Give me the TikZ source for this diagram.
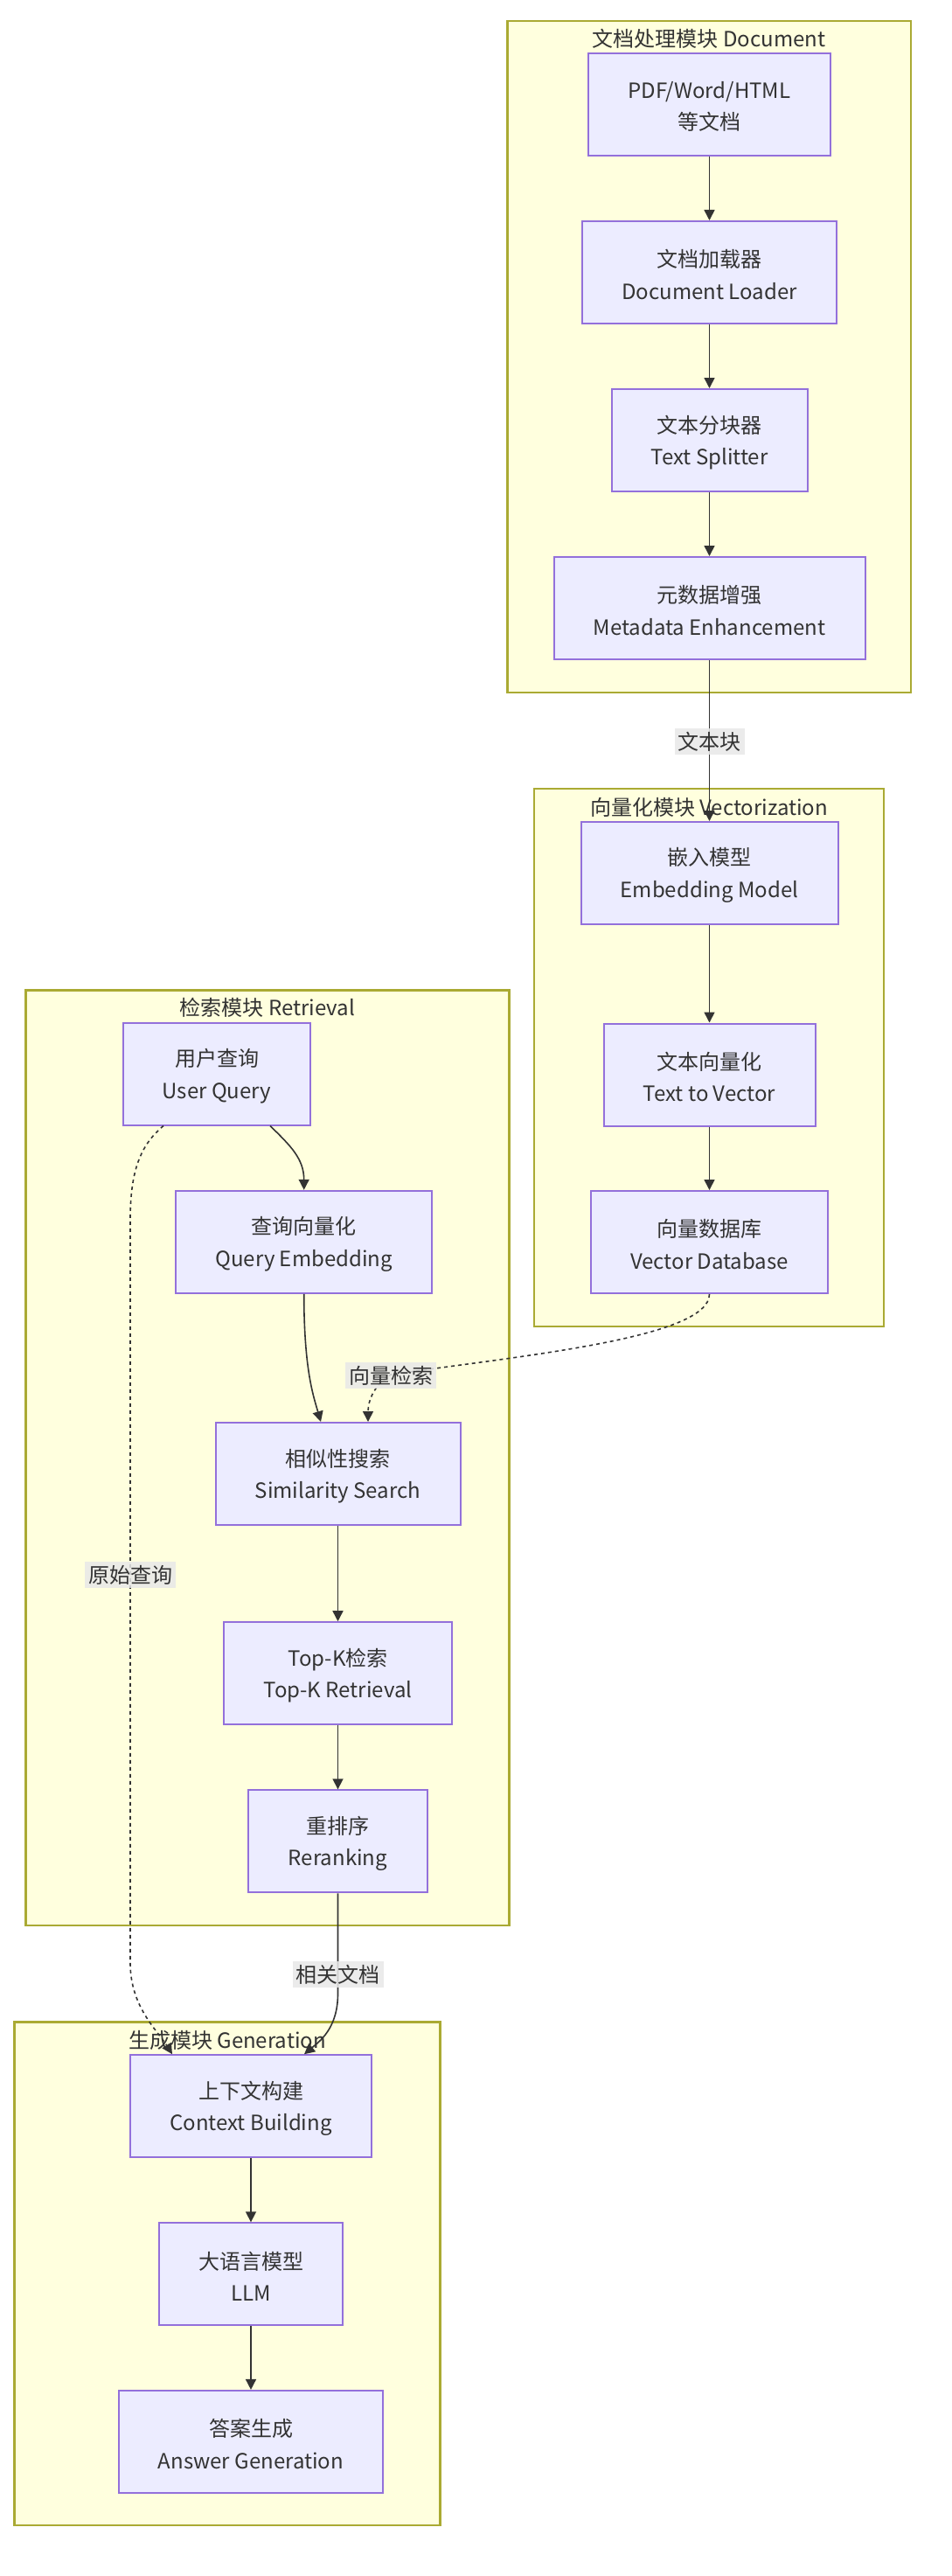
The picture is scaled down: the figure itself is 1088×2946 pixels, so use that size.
\documentclass[tikz,border=0pt]{standalone}
\usepackage{fontspec}
\setmainfont{Noto Sans CJK SC}
\usetikzlibrary{arrows.meta,calc}
\definecolor{clfill}{HTML}{FFFFDE}
\definecolor{clstroke}{HTML}{AAAA33}
\definecolor{ndfill}{HTML}{ECECFF}
\definecolor{ndstroke}{HTML}{9370DB}
\definecolor{edgec}{HTML}{333333}
\definecolor{lblfill}{HTML}{E8E8E8}
\begin{document}
\begin{tikzpicture}[x=1pt,y=-1pt,
  every node/.style={font=\fontsize{24}{36.5}\selectfont, text=edgec},
  nodebox/.style={draw=ndstroke, fill=ndfill, line width=2pt, minimum height=117pt, inner sep=0pt},
  boxtext/.style={align=center, inner sep=0pt, yshift=-2.5pt, label distance=0pt},
  clusterbox/.style={draw=clstroke, fill=clfill, line width=2.5pt},
  conn/.style={draw=edgec, line width=1.6pt, -{Triangle[length=12pt,width=12pt]}},
  dotconn/.style={conn, dash pattern=on 4pt off 4pt},
  elabel/.style={fill=lblfill, fill opacity=0.85, text opacity=1, inner sep=4pt}
]
\fill[white] (0,0) rectangle (1088,2946);
\useasboundingbox (0,0) rectangle (1088,2946);

% clusters
\draw[clusterbox] (580.7,24) rectangle (1042,792);
\draw[clusterbox] (611,902) rectangle (1011,1517);
\draw[clusterbox] (29.5,1132.6) rectangle (582.4,2202);
\draw[clusterbox] (16.7,2312.7) rectangle (503.3,2888);
\node (tdoc) at (811,44) {文档处理模块 Document};
\node (tvec) at (811,923) {向量化模块 Vectorization};
\node (tret) at (306,1152.6) {检索模块 Retrieval};
\node (tgen) at (260,2333) {生成模块 Generation};

% document module
\node[nodebox, minimum width=277pt, label={[boxtext]center:{PDF/Word/HTML\\等文档}}] (pdf) at (811.5,119.5) {};
\node[nodebox, minimum width=291pt, label={[boxtext]center:{文档加载器\\Document Loader}}] (loader) at (811.5,311.5) {};
\node[nodebox, minimum width=224pt, label={[boxtext]center:{文本分块器\\Text Splitter}}] (split) at (811.5,503.5) {};
\node[nodebox, minimum width=356pt, label={[boxtext]center:{元数据增强\\Metadata Enhancement}}] (meta) at (811.5,695.5) {};

% vectorization module
\node[nodebox, minimum width=294pt, label={[boxtext]center:{嵌入模型\\Embedding Model}}] (embed) at (811.5,998.5) {};
\node[nodebox, minimum width=242pt, label={[boxtext]center:{文本向量化\\Text to Vector}}] (t2v) at (811.5,1229) {};
\node[nodebox, minimum width=271pt, label={[boxtext]center:{向量数据库\\Vector Database}}] (db) at (811.5,1420.5) {};

% retrieval module
\node[nodebox, minimum width=214.5pt, label={[boxtext]center:{用户查询\\User Query}}] (uq) at (248,1228) {};
\node[nodebox, minimum width=293.4pt, label={[boxtext]center:{查询向量化\\Query Embedding}}] (qe) at (347.7,1420.3) {};
\node[nodebox, minimum width=280pt, label={[boxtext]center:{相似性搜索\\Similarity Search}}] (sim) at (386.5,1685.5) {};
\node[nodebox, minimum width=261pt, label={[boxtext]center:{Top-K检索\\Top-K Retrieval}}] (topk) at (386.5,1913.7) {};
\node[nodebox, minimum width=204.7pt, label={[boxtext]center:{重排序\\Reranking}}] (rerank) at (386.5,2105.8) {};

% generation module
\node[nodebox, minimum width=276.3pt, label={[boxtext]center:{上下文构建\\Context Building}}] (ctx) at (287,2408.7) {};
\node[nodebox, minimum width=210.6pt, label={[boxtext]center:{大语言模型\\LLM}}] (llm) at (287,2600.8) {};
\node[nodebox, minimum width=302.6pt, label={[boxtext]center:{答案生成\\Answer Generation}}] (ans) at (287,2792.4) {};

% edges
\draw[conn] (pdf) -- (loader);
\draw[conn] (loader) -- (split);
\draw[conn] (split) -- (meta);
\draw[conn] (meta) -- (embed);
\draw[conn] (embed) -- (t2v);
\draw[conn] (t2v) -- (db);
\draw[conn] (sim) -- (topk);
\draw[conn] (topk) -- (rerank);
\draw[conn] (ctx) -- (llm);
\draw[conn] (llm) -- (ans);

\coordinate (L2) at (447,1572);
\draw[dotconn] (db.south) .. controls (811.5,1530) and (600,1550) .. (L2)
  .. controls (430,1582) and (421,1600) .. ([xshift=34.5pt]sim.north);
\draw[conn] ([xshift=61pt]uq.south) .. controls (332,1310) and (347.7,1325) .. (qe.north);
\draw[conn] (qe.south) .. controls (347.7,1565) and (358,1595) .. ([xshift=-19.5pt]sim.north);
\draw[conn] (rerank.south) -- (386.5,2280) .. controls (386.5,2320) and (365,2335) .. ([xshift=61pt]ctx.north);
\draw[dotconn] ([xshift=-61pt]uq.south) .. controls (160,1310) and (149,1340) .. (149,1395)
  -- (149,2245) .. controls (149,2295) and (180,2322) .. ([xshift=-90pt]ctx.north);

% edge labels
\node[elabel] (l1) at (811.5,848) {文本块};
\node[elabel] (l2) at ([yshift=-1pt]L2) {向量检索};
\node[elabel] (l3) at (149,1801) {原始查询};
\node[elabel] (l4) at (386.5,2258) {相关文档};
\end{tikzpicture}
\end{document}
